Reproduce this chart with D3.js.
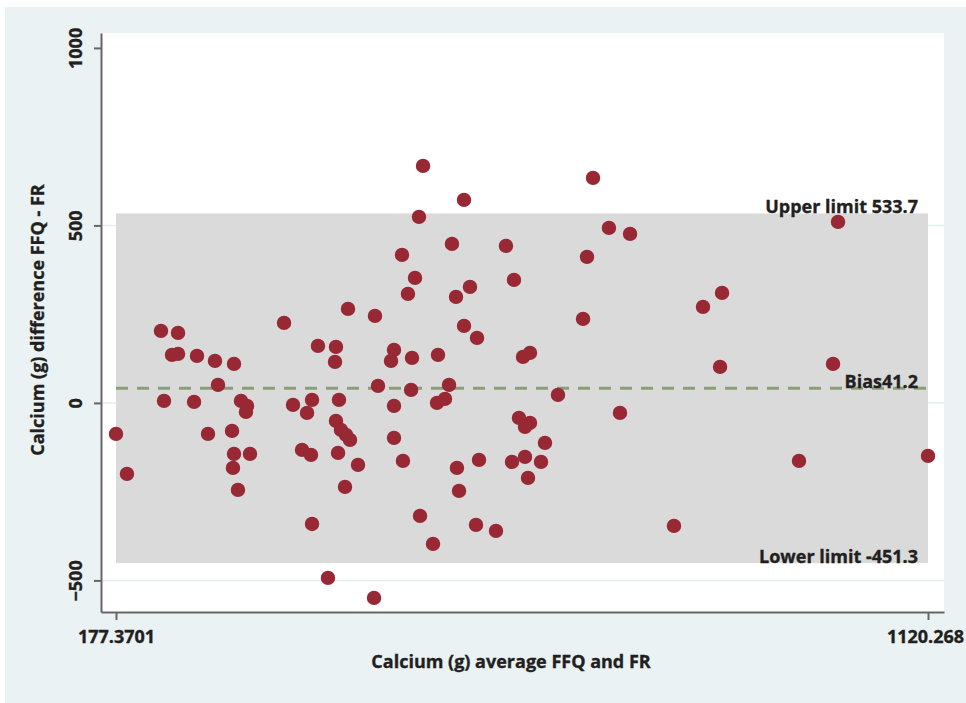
<!DOCTYPE html>
<html>
<head>
<meta charset="utf-8">
<script src="https://cdn.jsdelivr.net/npm/d3@7"></script>
<style>
  html, body { margin: 0; padding: 0; background: #fff; }
  svg text {
    font-family: "Open Sans", "DejaVu Sans", sans-serif; font-weight: bold; fill: #231f20;
    stroke: #231f20; stroke-width: 0.35px;
  }
</style>
</head>
<body>
<svg id="chart" width="966" height="703"></svg>
<script>
// ── Data ──────────────────────────────────────────────────────────────────────
// mean of FFQ and FR (x) and difference FFQ - FR (y), one entry per subject
const avgVals = [
  177.37, 190.1, 229.6, 249.4, 242.4, 249.4, 271.4, 292.3, 314.4, 295.8,
  233.1, 268.0, 284.2, 322.5, 329.5, 328.3, 312.1, 314.4, 333.0, 313.2,
  319.0, 372.5, 382.9, 405.0, 399.2, 393.4, 403.8, 405.0, 411.9, 432.8,
  431.7, 446.8, 478.1, 436.3, 432.8, 438.6, 444.5, 449.1, 435.2, 458.4,
  443.3, 423.5, 477.0, 481.6, 500.2, 496.7, 500.2, 500.2, 510.6, 509.5,
  516.4, 524.6, 521.1, 520.0, 529.2, 533.9, 530.4, 545.5, 551.3, 550.1,
  559.4, 564.1, 567.5, 572.2, 581.5, 581.5, 588.4, 596.6, 573.3, 575.7,
  595.4, 598.9, 618.6, 630.2, 639.5, 650.0, 658.1, 645.3, 658.1, 652.3,
  675.5, 637.2, 652.3, 670.9, 655.8, 690.6, 719.7, 724.3, 731.3, 749.8,
  762.6, 774.3, 825.3, 859.0, 881.1, 878.8, 970.5, 1010.0, 1015.8, 1120.27
];
const diffVals = [
  -87.3, -200.0, 202.8, 197.2, 135.2, 138.0, 132.4, 118.3, 109.9, 50.7,
  5.6, 2.8, -87.3, 5.6, -8.5, -25.4, -78.9, -143.7, -143.7, -183.1,
  -245.1, 225.4, -5.6, 8.5, -28.2, -132.4, -146.5, -340.9, 160.6, 157.8,
  115.5, 264.8, 245.1, 8.5, -50.7, -76.1, -90.1, -104.2, -140.8, -174.7,
  -236.6, -493.0, -549.3, 47.9, 149.3, 118.3, -8.5, -98.6, -163.4, 416.9,
  307.1, 352.1, 126.8, 36.6, 524.0, 667.6, -318.3, -397.2, 135.2, 0.0,
  11.3, 50.7, 447.9, 298.6, 571.9, 216.9, 326.8, 183.1, -183.1, -247.9,
  -343.7, -160.6, -360.6, 442.3, 346.5, 129.6, 140.8, -42.3, -56.3, -67.6,
  -112.7, -166.2, -152.1, -166.2, -211.3, 22.5, 236.6, 411.3, 633.8, 493.0,
  -28.2, 476.1, -346.5, 270.4, 309.9, 101.4, -163.4, 109.9, 509.9, -149.3
];

const BIAS        = 41.2;
const UPPER_LIMIT = 533.7;
const LOWER_LIMIT = -451.3;

const yTicks      = [-500, 0, 500, 1000];
const yGrid       = [-500, 0, 500];
const xTicks      = [177.3701, 1120.268];
const xTickLabels = ['177.3701', '1120.268'];

const xDomain = [159.95, 1138.85];
const yDomain = [-589, 1042];

// ── Layout ────────────────────────────────────────────────────────────────────
const W = 966, H = 703;
const plot = { left: 101, top: 33, right: 944, bottom: 612 };

const svg = d3.select('#chart');

// outer background
svg.append('rect').attr('x', 5).attr('y', 7)
  .attr('width', W - 5).attr('height', H - 7).attr('fill', '#eaf2f4');

// plot region
svg.append('rect')
  .attr('x', plot.left).attr('y', plot.top)
  .attr('width', plot.right - plot.left).attr('height', plot.bottom - plot.top)
  .attr('fill', '#ffffff');

const x = d3.scaleLinear().domain(xDomain).range([plot.left, plot.right]);
const y = d3.scaleLinear().domain(yDomain).range([plot.bottom, plot.top]);

// ── Grid lines ────────────────────────────────────────────────────────────────
svg.append('g').selectAll('line')
  .data(yGrid)
  .join('line')
  .attr('x1', plot.left).attr('x2', plot.right)
  .attr('y1', d => y(d)).attr('y2', d => y(d))
  .attr('stroke', '#e4eef1').attr('stroke-width', 1.5);

// ── Limits of agreement band ──────────────────────────────────────────────────
const xMin = d3.min(avgVals), xMax = d3.max(avgVals);

svg.append('rect')
  .attr('x', x(xMin)).attr('y', y(UPPER_LIMIT))
  .attr('width', x(xMax) - x(xMin))
  .attr('height', y(LOWER_LIMIT) - y(UPPER_LIMIT))
  .attr('fill', '#dadada');

// bias line
svg.append('line')
  .attr('x1', x(xMin)).attr('x2', x(xMax))
  .attr('y1', y(BIAS)).attr('y2', y(BIAS))
  .attr('stroke', '#8b9f77').attr('stroke-width', 3)
  .attr('stroke-dasharray', '12,9');

// ── Points ────────────────────────────────────────────────────────────────────
const points = avgVals.map((a, i) => ({ a, d: diffVals[i] }));

svg.append('g').selectAll('circle')
  .data(points)
  .join('circle')
  .attr('cx', p => x(p.a))
  .attr('cy', p => y(p.d))
  .attr('r', 7.2)
  .attr('fill', '#982833');

// ── Annotations ───────────────────────────────────────────────────────────────
const labelX = x(xMax) - 10;
const notes = [
  { v: UPPER_LIMIT, t: `Upper limit ${UPPER_LIMIT}` },
  { v: BIAS,        t: `Bias${BIAS}` },
  { v: LOWER_LIMIT, t: `Lower limit ${LOWER_LIMIT}` }
];
svg.append('g').selectAll('text')
  .data(notes)
  .join('text')
  .attr('x', labelX)
  .attr('y', d => y(d.v))
  .attr('text-anchor', 'end')
  .attr('font-size', 18)
  .text(d => d.t);

// ── Axes ──────────────────────────────────────────────────────────────────────
const yAxis = svg.append('g')
  .attr('transform', `translate(${plot.left},0)`)
  .call(d3.axisLeft(y).tickValues(yTicks).tickSize(7).tickSizeOuter(0).tickFormat(d3.format('d')));

const xAxis = svg.append('g')
  .attr('transform', `translate(0,${plot.bottom})`)
  .call(d3.axisBottom(x).tickValues(xTicks).tickSize(8).tickSizeOuter(0)
    .tickFormat((d, i) => xTickLabels[i]));

[yAxis, xAxis].forEach(ax => {
  ax.select('.domain').attr('stroke', '#666').attr('stroke-width', 2);
  ax.selectAll('.tick line').attr('stroke', '#666').attr('stroke-width', 2);
  ax.selectAll('.tick text')
    .attr('font-size', 18)
    .attr('font-family', '"Open Sans", sans-serif')
    .attr('font-weight', 'bold')
    .attr('fill', '#231f20');
});

yAxis.selectAll('.tick text')
  .attr('transform', 'rotate(-90)')
  .attr('x', 0)
  .attr('y', -19)
  .attr('dy', 0)
  .attr('text-anchor', 'middle');

xAxis.selectAll('.tick text')
  .attr('y', 31)
  .attr('dy', 0)
  .attr('dx', (d, i) => i === xTicks.length - 1 ? -3 : 0);

// ── Axis titles ───────────────────────────────────────────────────────────────
svg.append('text')
  .attr('x', 511).attr('y', 668)
  .attr('text-anchor', 'middle')
  .attr('font-size', 18)
  .text('Calcium (g) average FFQ and FR');

svg.append('text')
  .attr('transform', 'translate(44,320) rotate(-90)')
  .attr('text-anchor', 'middle')
  .attr('font-size', 18)
  .text('Calcium (g) difference FFQ - FR');
</script>
</body>
</html>
